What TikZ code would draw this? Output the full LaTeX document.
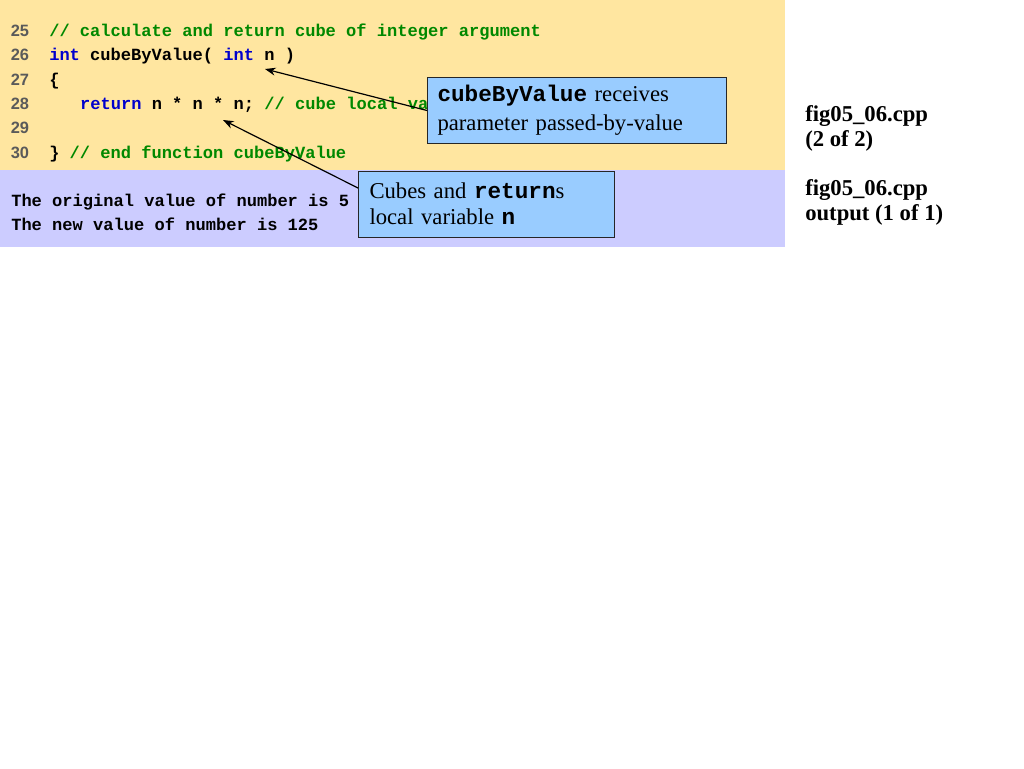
\documentclass[tikz,border=0pt]{standalone}
\usepackage{fontspec}
\setmainfont{Liberation Serif}
\newfontfamily\codefont{Liberation Mono}
\newfontfamily\numfont{Liberation Sans}
\usetikzlibrary{arrows.meta,calc}
\definecolor{bandyellow}{RGB}{255,230,160}
\definecolor{bandpurple}{RGB}{204,204,255}
\definecolor{boxblue}{RGB}{153,204,255}
\definecolor{cgreen}{RGB}{0,136,0}
\definecolor{cblue}{RGB}{0,0,204}
\definecolor{numgray}{RGB}{90,90,90}
\newcommand{\gr}[1]{\textcolor{cgreen}{#1}}
\newcommand{\bl}[1]{\textcolor{cblue}{#1}}
\newcommand{\cc}[1]{{\codefont\bfseries #1}}
\begin{document}
\begin{tikzpicture}[x=0.75pt,y=-0.75pt,
  codeline/.style={anchor=base west,inner sep=0pt,font=\codefont\bfseries\fontsize{12.8}{15}\selectfont},
  lineno/.style={anchor=base west,inner sep=0pt,text=numgray,font=\numfont\bfseries\fontsize{12.3}{14}\selectfont},
  figlabel/.style={anchor=base west,inner sep=0pt,font=\bfseries\fontsize{17}{20}\selectfont},
  callout/.style={draw=black!85,line width=0.75pt,fill=boxblue,anchor=north west,align=left,
    minimum height=49.5pt,font=\fontsize{17}{21.75}\selectfont},
  arr/.style={line width=0.9pt,-{Stealth[length=8pt,width=6pt]}}]
\useasboundingbox (0,0) rectangle (1024,768);
\fill[white] (0,0) rectangle (1024,768);
% bands
\fill[bandyellow] (0,0) rectangle (785,170);
\fill[bandpurple] (0,170) rectangle (785,247);
% line numbers
\node[lineno] (n25) at (10.5,36) {25};
\node[lineno] (n26) at (10.5,60.5) {26};
\node[lineno] (n27) at (10.5,85) {27};
\node[lineno] (n28) at (10.5,109.3) {28};
\node[lineno] (n29) at (10.5,133.5) {29};
\node[lineno] (n30) at (10.5,158.3) {30};
% code
\node[codeline] (c25) at (49,36) {\gr{// calculate and return cube of integer argument}};
\node[codeline] (c26) at (49,60.5) {\bl{int} cubeByValue( \bl{int} n )};
\node[codeline] (c27) at (49,85) {\{};
\node[codeline] (c28) at (79.8,109.3) {\bl{return} n * n * n; \gr{// cube local va}};
\node[codeline] (c30) at (49,158.3) {\} \gr{// end function cubeByValue}};
% output
\node[codeline] (o1) at (11,206.5) {The original value of number is 5};
\node[codeline] (o2) at (11,230) {The new value of number is 125};
% callouts
\node[callout,minimum width=224.25pt,text width=209.25pt,inner xsep=7.5pt] (b1) at (427,77)
  {\cc{cubeByValue} receives\\parameter passed-by-value};
\node[callout,minimum width=192pt,text width=175.5pt,inner xsep=8.25pt,font=\fontsize{17}{19.5}\selectfont] (b2) at (358,170.7)
  {Cubes and \cc{return}s\\local variable \cc{n}};
% arrows
\coordinate (h1) at (265,69);
\coordinate (h2) at (223,120);
\coordinate (t2) at ($(b2.north west)+(0,17.3)$);
\draw[arr] (b1.west) -- (h1);
\draw[arr] (t2) -- (h2);
% right labels
\node[figlabel] (f1) at (805,121.7) {fig05\_06.cpp};
\node[figlabel] (f2) at (805,146.5) {(2 of 2)};
\node[figlabel] (f3) at (805,195) {fig05\_06.cpp};
\node[figlabel] (f4) at (805,220) {output (1 of 1)};
\end{tikzpicture}
\end{document}
